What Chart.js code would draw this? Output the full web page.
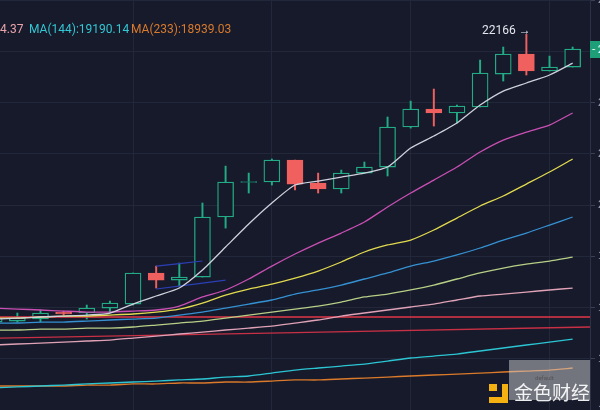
<!DOCTYPE html>
<html>
<head>
<meta charset="utf-8">
<script src="https://cdn.jsdelivr.net/npm/chart.js@4.4.1/dist/chart.umd.min.js"></script>
<style>
  html, body { margin: 0; padding: 0; background: #161a2b; }
  #wrap { position: relative; width: 600px; height: 410px; overflow: hidden; background: #161a2b; }
  #c { position: absolute; left: 0; top: 0; }
  .txt { position: absolute; font-family: Roboto, "Noto Sans", sans-serif; font-size: 12px; line-height: 16px; white-space: nowrap; }
</style>
</head>
<body>
<div id="wrap">
  <canvas id="c" width="600" height="410"></canvas>
  <div class="txt" style="left:0;top:21px;color:#eba3ab">4.37</div>
  <div class="txt" style="left:29px;top:21px;color:#33c6d3">MA(144):19190.14</div>
  <div class="txt" style="left:131px;top:21px;color:#d97a2c">MA(233):18939.03</div>
  <div class="txt" style="left:482px;top:22px;color:#e4e6ee">22166 &#8594;</div>
  <div class="txt" style="left:590px;top:41px;width:40px;height:17px;background:#1f9f78;color:#fff;font-size:11px;line-height:17px;padding-left:2px">- 22015</div>
  <div style="position:absolute;left:509px;top:360px;width:81px;height:40px;background:rgba(205,205,210,0.5)"></div>
  <div class="txt" style="left:535px;top:374px;font-size:6px;line-height:8px;color:#555">default</div>
  <div style="position:absolute;left:489px;top:384px;width:8px;height:7px;background:#f3b211"></div>
  <div style="position:absolute;left:502px;top:384px;width:6px;height:19px;background:#f3b211"></div>
  <div style="position:absolute;left:489px;top:397px;width:19px;height:6px;background:#f3b211"></div>
  <div class="txt" style="left:514px;top:380px;font-family:'Noto Sans CJK SC',sans-serif;font-size:19px;line-height:24px;color:rgba(255,255,255,0.92)">金色财经</div>
</div>
<script>
// candle slots (slot -1 is the one cut by the left edge)
const slots = [-1, 0, 1, 2, 3, 4, 5, 6, 7, 8, 9, 10, 11, 12, 13, 14, 15, 16, 17, 18, 19, 20, 21, 22, 23, 24];
const open  = [19206, 19216, 19237, 19309, 19299, 19350, 19391, 19711, 19638, 19669, 20287, 20642, 20647, 20873, 20636, 20575, 20739, 20801, 21213, 21398, 21357, 21419, 21758, 21964, 21789, 21830];
const high  = [19257, 19299, 19330, 19319, 19381, 19422, 19711, 19782, 19813, 20431, 20811, 20739, 20884, 20873, 20739, 20770, 20853, 21316, 21480, 21604, 21439, 21902, 22036, 22166, 21943, 22036];
const low   = [19196, 19206, 19206, 19278, 19237, 19299, 19381, 19556, 19577, 19669, 20173, 20534, 20616, 20565, 20534, 20534, 20739, 20709, 21202, 21223, 21254, 21419, 21686, 21748, 21789, 21830];
const close = [19247, 19247, 19299, 19289, 19350, 19402, 19711, 19638, 19669, 20287, 20647, 20652, 20873, 20626, 20575, 20739, 20801, 21213, 21398, 21357, 21429, 21768, 21964, 21789, 21830, 22015];

// moving averages
const maWhite   = [19237, 19247, 19258, 19268, 19278, 19299, 19391, 19474, 19556, 19741, 19978, 20215, 20431, 20616, 20657, 20698, 20739, 20801, 20997, 21120, 21254, 21439, 21583, 21666, 21748, 21871];
const maMagenta = [19350, 19340, 19330, 19319, 19309, 19309, 19319, 19330, 19371, 19464, 19536, 19649, 19782, 19906, 20019, 20122, 20235, 20390, 20534, 20667, 20801, 20956, 21079, 21161, 21233, 21357];
const maYellow  = [19247, 19247, 19258, 19268, 19268, 19278, 19289, 19309, 19340, 19402, 19484, 19546, 19597, 19659, 19731, 19824, 19927, 19999, 20050, 20153, 20276, 20400, 20503, 20626, 20750, 20884];
const maBlue    = [19196, 19196, 19206, 19206, 19216, 19227, 19237, 19247, 19278, 19309, 19350, 19391, 19433, 19494, 19536, 19587, 19649, 19711, 19782, 19834, 19896, 19968, 20050, 20122, 20204, 20287];
const maKhaki   = [19124, 19124, 19134, 19134, 19144, 19144, 19155, 19175, 19196, 19216, 19247, 19278, 19309, 19340, 19371, 19412, 19464, 19494, 19536, 19587, 19649, 19711, 19762, 19803, 19834, 19875];
const maPink    = [18970, 18980, 18990, 19000, 19011, 19021, 19041, 19062, 19083, 19103, 19124, 19144, 19165, 19196, 19227, 19268, 19299, 19330, 19361, 19391, 19433, 19474, 19494, 19515, 19536, 19556];
const ma144     = [18528, 18538, 18548, 18558, 18569, 18579, 18589, 18599, 18610, 18620, 18640, 18651, 18681, 18712, 18733, 18753, 18774, 18805, 18836, 18856, 18877, 18908, 18939, 18970, 19000, 19031];
const ma233     = [18548, 18548, 18548, 18548, 18558, 18558, 18569, 18569, 18579, 18579, 18589, 18589, 18599, 18610, 18610, 18620, 18630, 18640, 18651, 18661, 18671, 18681, 18692, 18702, 18712, 18733];

// drawn levels and the small channel
const flatLevel  = [19258, 19258];
const slopeLevel = [19041, 19155];
const channelTop = [[6, 19782], [8, 19834]];
const channelLow = [[6, 19546], [9, 19638]];

const dayBreaks = [5, 11, 17, 23];
const yTicks = { min: 18301, max: 22520, step: 500 };

const BG = '#161a2b', UP = '#22ab84', DOWN = '#f0605f', GRID = '#222739';
const xMin = -0.75, xMax = 24.75;

const isUp = slots.map((s, i) => close[i] >= open[i]);
const series = (arr) => slots.map((s, i) => ({ x: s, y: arr[i] }));
const line = (data, color, width) => ({
  type: 'line', data, borderColor: color, borderWidth: width || 1.3,
  pointRadius: 0, tension: 0.2, order: 0
});

new Chart(document.getElementById('c'), {
  data: {
    datasets: [
      line(series(maWhite), '#cfd1dc'),
      line(series(maMagenta), '#c94fb3'),
      line(series(maYellow), '#e2da4e'),
      line(series(maBlue), '#3591d2'),
      line(series(maKhaki), '#b8cf86'),
      line(series(maPink), '#e0a2b6'),
      line([{ x: xMin, y: flatLevel[0] }, { x: xMax, y: flatLevel[1] }], '#e03748'),
      line([{ x: xMin, y: slopeLevel[0] }, { x: xMax, y: slopeLevel[1] }], '#c83045'),
      line(series(ma144), '#2cc5d2'),
      line(series(ma233), '#db7a2a'),
      line(channelTop.map(p => ({ x: p[0], y: p[1] })), '#2c3fb5', 1.2),
      line(channelLow.map(p => ({ x: p[0], y: p[1] })), '#2c3fb5', 1.2),
      {
        type: 'bar', order: 2, grouped: false, barThickness: 16,
        data: slots.map((s, i) => ({ x: s, y: [Math.min(open[i], close[i]), Math.max(open[i], close[i])] })),
        backgroundColor: isUp.map(u => u ? BG : DOWN),
        borderColor: isUp.map(u => u ? UP : DOWN),
        borderWidth: 1.3, borderSkipped: false
      },
      {
        type: 'bar', order: 3, grouped: false, barThickness: 1.3,
        data: slots.map((s, i) => ({ x: s, y: [low[i], high[i]] })),
        backgroundColor: isUp.map(u => u ? UP : DOWN)
      }
    ]
  },
  options: {
    responsive: false,
    animation: false,
    devicePixelRatio: 1,
    layout: { padding: 0 },
    plugins: { legend: { display: false }, tooltip: { enabled: false } },
    scales: {
      x: {
        type: 'linear', min: xMin, max: xMax, offset: false,
        ticks: { display: false },
        grid: { color: GRID, drawTicks: false, offset: false },
        border: { display: false },
        afterBuildTicks: (s) => { s.ticks = dayBreaks.map(v => ({ value: v })); }
      },
      y: {
        position: 'right', min: yTicks.min, max: yTicks.max,
        ticks: { stepSize: yTicks.step, includeBounds: false, color: '#9aa0b2', font: { size: 11 }, padding: 3 },
        grid: { color: GRID, tickLength: 5, tickColor: '#3a3f53' },
        border: { color: '#2c3145' },
        afterFit: (s) => { s.width = 10; s.paddingTop = 0; s.paddingBottom = 0; }
      }
    }
  }
});
</script>
</body>
</html>
